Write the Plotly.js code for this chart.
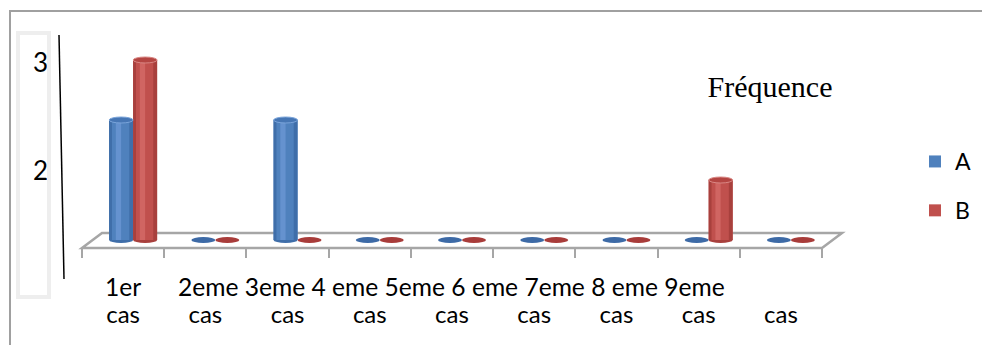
<!DOCTYPE html>
<html>
<head>
<meta charset="utf-8">
<script src="https://cdn.plot.ly/plotly-3.0.1.min.js"></script>
<style>
  html, body { margin: 0; padding: 0; background: #ffffff; }
  #chart { width: 982px; height: 345px; }
</style>
</head>
<body>
<div id="chart"></div>
<script>
// ---- data ----
const categories = ["1er cas", "2eme cas", "3eme cas", "4 eme cas", "5eme cas",
                    "6 eme cas", "7eme cas", "8 eme cas", "9eme cas"];
const seriesNames = ["A", "B"];
const valuesA = [2, 0, 2, 0, 0, 0, 0, 0, 0];
const valuesB = [3, 0, 0, 0, 0, 0, 0, 1, 0];
const sideTickVals = [2, 3];
const chartTitle = "Fréquence";

// ---- geometry of the drawing area (pixels) ----
const W = 982, H = 345;
const PL = 82, PR = 822, PT = 30, PB = 248;   // plot area
const ZERO_PX = 240, PX_PER_UNIT = 60;        // floor level and vertical scale
const catPx = (PR - PL) / categories.length;
const fx = px => (px - PL) / (PR - PL);
const fy = py => (PB - py) / (PB - PT);

const xIdx = categories.map((_, i) => i);
const barW = 24 / catPx;          // cylinder width in category units
const depth = 10 / catPx;         // bars stand half-way into the floor
const capH = 3 / PX_PER_UNIT;     // half height of the elliptic caps

const palettes = [
  { main: "#4f81bd", edge: "#3f6ea9", light: "#6592cf", cap: "#4676b4", capLine: "#7aa4da", flat: "#3d6aa6" },
  { main: "#c0504d", edge: "#a8403d", light: "#d06562", cap: "#b44542", capLine: "#d98784", flat: "#a83c3a" }
];
const series = [valuesA, valuesB];
const offsets = [-barW + depth, depth];

const traces = [];
const shapes = [];

// floor of the chart (drawn first so the cylinders sit on it)
shapes.push({
  type: "path", xref: "paper", yref: "paper", layer: "below",
  path: `M${fx(82)},${fy(248)} L${fx(102)},${fy(233)} L${fx(842)},${fy(233)} L${fx(822)},${fy(248)} Z`,
  fillcolor: "#ffffff", line: { color: "#a6a6a6", width: 2.5 }
});

series.forEach((vals, s) => {
  const p = palettes[s];
  const off = offsets[s];
  // cylinder body: base colour, darker rims, soft highlight
  const layers = [
    { a: 0.00, b: 1.00, color: p.main, legend: true },
    { a: 0.00, b: 0.12, color: p.edge },
    { a: 0.84, b: 1.00, color: p.edge },
    { a: 0.28, b: 0.50, color: p.light }
  ];
  layers.forEach(ly => {
    traces.push({
      type: "bar", name: seriesNames[s], legendgroup: seriesNames[s],
      showlegend: !!ly.legend,
      x: xIdx, y: vals,
      offset: off + ly.a * barW, width: barW * (ly.b - ly.a),
      marker: { color: ly.color, line: { width: 0 } },
      hoverinfo: ly.legend ? "x+y+name" : "skip"
    });
  });
  // elliptic bottoms and tops of each cylinder
  vals.forEach((v, i) => {
    const x0 = i + off, x1 = i + off + barW;
    shapes.push({
      type: "circle", xref: "x", yref: "y", layer: "below",
      x0, x1, y0: -capH, y1: capH,
      fillcolor: v > 0 ? p.edge : p.flat, line: { width: 0 }
    });
    if (v > 0) {
      shapes.push({
        type: "circle", xref: "x", yref: "y", layer: "above",
        x0, x1, y0: v - capH, y1: v + capH,
        fillcolor: p.cap, line: { color: p.capLine, width: 1 }
      });
    }
  });
});

// helper trace so the side value axis is laid out
traces.push({ type: "scatter", x: [], y: [], yaxis: "y2", showlegend: false, hoverinfo: "skip" });

// outer frame, label box and the vertical axis stroke
shapes.push({
  type: "path", xref: "paper", yref: "paper", layer: "above",
  path: `M${fx(10)},${fy(345)} L${fx(10)},${fy(11)} L${fx(982)},${fy(11)}`,
  line: { color: "#a0a0a0", width: 2 }
});
shapes.push({
  type: "rect", xref: "paper", yref: "paper", layer: "above",
  x0: fx(18), x1: fx(49), y0: fy(297), y1: fy(33),
  line: { color: "#eeeeee", width: 4 }
});
shapes.push({
  type: "line", xref: "paper", yref: "paper", layer: "above",
  x0: fx(59), y0: fy(35), x1: fx(64), y1: fy(279),
  line: { color: "#000000", width: 1.5 }
});

// category captions: first word row and "cas" row
const topWords = categories.map(c => c.replace(/ cas$/, ""));
const bottomWords = categories.map(c => c.split(" ").pop());
const labelFont = { family: "Lato, 'Liberation Sans', sans-serif", size: 24, color: "#000000" };
const topRowFont = Object.assign({}, labelFont, { size: 24.6 });

const annotations = [
  { xref: "x", yref: "paper", x: 0, y: fy(286), xanchor: "center", yanchor: "middle",
    text: topWords[0], showarrow: false, font: topRowFont },
  { xref: "x", yref: "paper", x: (176 - PL) / catPx - 0.5, y: fy(286), xanchor: "left", yanchor: "middle",
    text: topWords.slice(1).join(" "), showarrow: false, font: topRowFont }
];

const boundaries = categories.map((_, i) => i - 0.5).concat([categories.length - 0.5]);

const layout = {
  width: W, height: H,
  margin: { l: PL, r: W - PR, t: PT, b: H - PB },
  paper_bgcolor: "#ffffff", plot_bgcolor: "rgba(0,0,0,0)",
  barmode: "overlay",
  showlegend: true,
  title: {
    text: chartTitle, xref: "container", yref: "container",
    x: 770 / W, xanchor: "center", y: 1 - 86 / H, yanchor: "middle",
    font: { family: "'Liberation Serif', 'Times New Roman', serif", size: 30, color: "#000000" }
  },
  xaxis: {
    range: [-0.5, categories.length - 0.5],
    tickmode: "array", tickvals: xIdx, ticktext: bottomWords,
    ticks: "", ticklabelstandoff: 50,
    minor: { tickmode: "array", tickvals: boundaries, ticks: "outside", ticklen: 9,
             tickcolor: "#a6a6a6", tickwidth: 2, showgrid: false },
    showgrid: false, zeroline: false, showline: false,
    tickfont: labelFont, fixedrange: true
  },
  yaxis: {
    range: [-(PB - ZERO_PX) / PX_PER_UNIT, (ZERO_PX - PT) / PX_PER_UNIT],
    visible: false, fixedrange: true
  },
  yaxis2: {
    overlaying: "y", side: "left",
    range: [2 - (PB - 171) / 108, 3 + (63 - PT) / 108],
    tickmode: "array", tickvals: sideTickVals, ticks: "",
    ticklabelstandoff: 33,
    showgrid: false, zeroline: false, showline: false,
    tickfont: { family: "Lato, 'Liberation Sans', sans-serif", size: 26, color: "#000000" },
    fixedrange: true
  },
  legend: {
    xref: "container", yref: "container",
    x: 915 / W, xanchor: "left", y: 1 - 140 / H, yanchor: "top",
    traceorder: "grouped", tracegroupgap: 16,
    font: { family: "Lato, 'Liberation Sans', sans-serif", size: 23, color: "#000000" },
    bgcolor: "rgba(0,0,0,0)"
  },
  shapes, annotations
};

Plotly.newPlot("chart", traces, layout, { displayModeBar: false, staticPlot: true });
</script>
</body>
</html>
